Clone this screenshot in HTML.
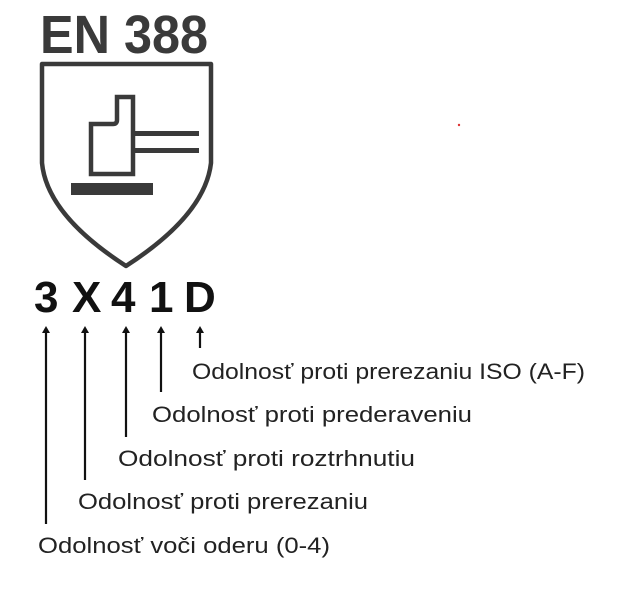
<!DOCTYPE html>
<html><head><meta charset="utf-8"><style>
html,body{margin:0;padding:0;background:#fff;}
svg{display:block}
</style></head><body>
<svg width="639" height="600" viewBox="0 0 639 600" xmlns="http://www.w3.org/2000/svg">
<rect width="639" height="600" fill="#fff"/>
<text x="40" y="53" font-family="Liberation Sans, sans-serif" font-weight="bold" font-size="54" fill="#3a3a3a" textLength="168" lengthAdjust="spacingAndGlyphs">EN 388</text>
<path d="M42 64 H211 V163 Q205 215 126 266 Q47 215 42 163 Z" fill="none" stroke="#3a3a3a" stroke-width="4.5" stroke-linejoin="round"/>
<path d="M91 124 H113 Q117 124 117 120 V97 H133 V174 H91 Z" fill="none" stroke="#3a3a3a" stroke-width="4.5"/>
<rect x="135" y="131" width="64" height="5" fill="#3a3a3a"/>
<rect x="135" y="148" width="64" height="5" fill="#3a3a3a"/>
<rect x="71" y="183" width="82" height="12" fill="#3a3a3a"/>
<g font-family="Liberation Sans, sans-serif" font-weight="bold" font-size="44" fill="#111">
<text x="34" y="312">3</text>
<text x="72" y="312">X</text>
<text x="111" y="312">4</text>
<text x="149" y="312">1</text>
<text x="184" y="312">D</text>
</g>
<g stroke="#111" stroke-width="2.2">
<line x1="46" y1="331" x2="46" y2="524"/>
<line x1="85" y1="331" x2="85" y2="480"/>
<line x1="126" y1="331" x2="126" y2="437"/>
<line x1="161" y1="331" x2="161" y2="392"/>
<line x1="200" y1="331" x2="200" y2="348"/>
</g>
<g fill="#111">
<path d="M42 333 L46 326 L50 333 Z"/>
<path d="M81 333 L85 326 L89 333 Z"/>
<path d="M122 333 L126 326 L130 333 Z"/>
<path d="M157 333 L161 326 L165 333 Z"/>
<path d="M196 333 L200 326 L204 333 Z"/>
</g>
<g font-family="Liberation Sans, sans-serif" font-size="22" fill="#222">
<text x="192" y="379" textLength="393" lengthAdjust="spacingAndGlyphs">Odolnosť proti prerezaniu ISO (A-F)</text>
<text x="152" y="422" textLength="320" lengthAdjust="spacingAndGlyphs">Odolnosť proti prederaveniu</text>
<text x="118" y="466" textLength="297" lengthAdjust="spacingAndGlyphs">Odolnosť proti roztrhnutiu</text>
<text x="78" y="509" textLength="290" lengthAdjust="spacingAndGlyphs">Odolnosť proti prerezaniu</text>
<text x="38" y="553" textLength="292" lengthAdjust="spacingAndGlyphs">Odolnosť voči oderu (0-4)</text>
</g>
<circle cx="459" cy="125" r="1.2" fill="#d33"/>
</svg>
</body></html>
